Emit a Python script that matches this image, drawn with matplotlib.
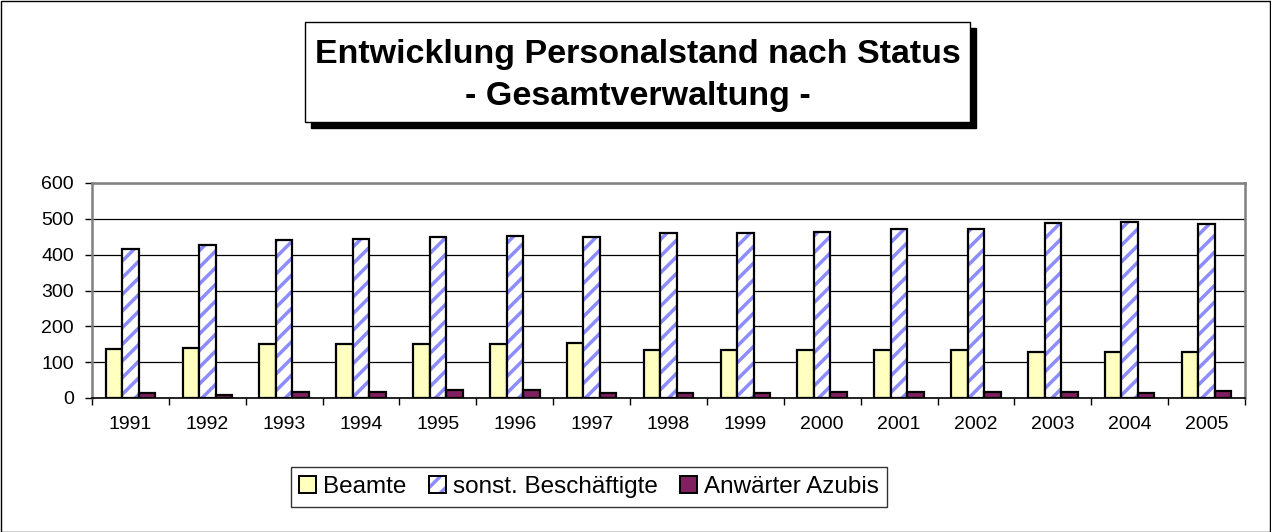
import numpy as np
import matplotlib.pyplot as plt
import matplotlib.patches as mpatches
from matplotlib.patches import Rectangle

years = ['1991', '1992', '1993', '1994', '1995', '1996', '1997', '1998',
         '1999', '2000', '2001', '2002', '2003', '2004', '2005']
beamte = [136, 139, 150, 152, 152, 152, 154, 135, 135, 135, 133, 133, 127, 127, 127]
sonst = [417, 428, 441, 445, 450, 452, 449, 460, 461, 463, 473, 473, 487, 490, 485]
azubis = [13, 8, 16, 18, 23, 21, 14, 13, 14, 16, 17, 17, 17, 13, 20]
labels = ['Beamte', 'sonst. Beschäftigte', 'Anwärter Azubis']

plt.rcParams['font.family'] = ['Liberation Sans', 'DejaVu Sans']
plt.rcParams['hatch.linewidth'] = 2.5

fig = plt.figure(figsize=(12.71, 5.32), dpi=100)
W, H = 1271, 532

# outer frame
fig.patches.append(Rectangle((0.5 / W, 0.5 / H), 1 - 1.5 / W, 1 - 1.5 / H, transform=fig.transFigure,
                             fill=False, edgecolor='black', linewidth=1))

# title box with shadow
bx0, by0, bx1, by1 = 305, 22, 970, 122
fig.patches.append(Rectangle((bx0 / W + 6 / W, 1 - (by1 + 6) / H), (bx1 - bx0) / W, (by1 - by0) / H,
                             transform=fig.transFigure, facecolor='black', edgecolor='black'))
fig.patches.append(Rectangle((bx0 / W, 1 - by1 / H), (bx1 - bx0) / W, (by1 - by0) / H,
                             transform=fig.transFigure, facecolor='white', edgecolor='black', linewidth=1))
fig.text((bx0 + bx1) / 2 / W, 1 - 54 / H, 'Entwicklung Personalstand nach Status',
         ha='center', va='center', fontsize=24.5, fontweight='bold')
fig.text((bx0 + bx1) / 2 / W, 1 - 96 / H, '- Gesamtverwaltung -',
         ha='center', va='center', fontsize=24.5, fontweight='bold')

ax = fig.add_axes([92 / W, (H - 398) / H, (1245 - 92) / W, (398 - 183) / H])
x = np.arange(len(years))
w = 0.215

ax.bar(x - w, beamte, w, color='#FFFFC0', edgecolor='black', linewidth=1.6, zorder=3)
ax.bar(x, sonst, w, color='white', edgecolor='#8C8CFF', hatch='//', linewidth=0, zorder=3)
ax.bar(x, sonst, w, color='none', edgecolor='black', linewidth=1.6, zorder=4)
ax.bar(x + w, azubis, w, color='#802060', edgecolor='black', linewidth=1.6, zorder=3)

ax.set_xlim(-0.5, len(years) - 0.5)
ax.set_ylim(0, 600)
ax.set_yticks(range(0, 601, 100))
ax.set_xticks(x)
ax.set_xticklabels(years)
ax.set_xticks(np.arange(-0.5, len(years)), minor=True)
ax.tick_params(axis='x', which='major', length=0, pad=13, labelsize=14)
ax.tick_params(axis='x', which='minor', length=5, width=1, color='black')
ax.tick_params(axis='y', length=5, width=1, labelsize=14, pad=8)
ax.yaxis.grid(True, color='black', linewidth=0.9, zorder=0)
ax.set_axisbelow(True)
for s in ['top', 'right', 'left']:
    ax.spines[s].set_color('#808080')
    ax.spines[s].set_linewidth(1.8)
ax.spines['bottom'].set_color('black')
ax.spines['bottom'].set_linewidth(1.2)

# legend handles
h1 = mpatches.Patch(facecolor='#FFFFC0', edgecolor='black', linewidth=1.4)
h2a = mpatches.Patch(facecolor='white', edgecolor='#8C8CFF', hatch='//', linewidth=0)
h2b = mpatches.Patch(facecolor='none', edgecolor='black', linewidth=1.4)
h3 = mpatches.Patch(facecolor='#802060', edgecolor='black', linewidth=1.4)
leg = fig.legend([h1, (h2a, h2b), h3], labels, loc='center', bbox_to_anchor=(589 / W, 1 - 487 / H),
                 ncol=3, fontsize=17.5, frameon=True, fancybox=False, edgecolor='black',
                 handlelength=0.7, handleheight=0.7, handletextpad=0.3, columnspacing=0.9,
                 borderpad=0.35, borderaxespad=0)
leg.get_frame().set_linewidth(1)

fig.savefig('out.png', dpi=100)
